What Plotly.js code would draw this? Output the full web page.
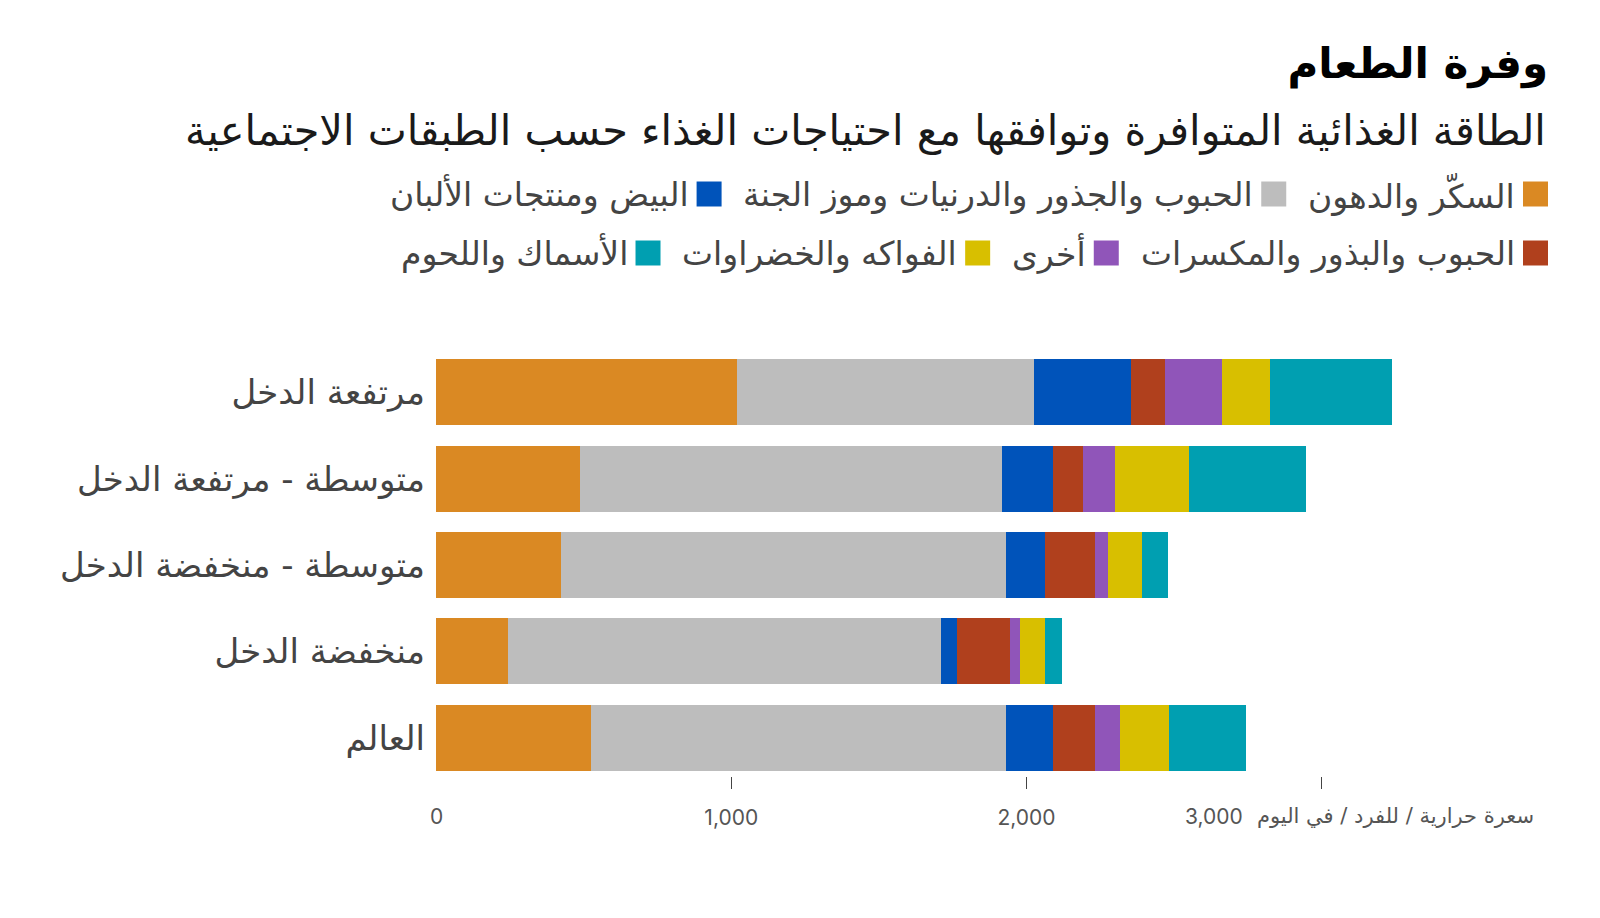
<!DOCTYPE html>
<html>
<head>
<meta charset="utf-8">
<script src="https://cdn.plot.ly/plotly-3.0.1.min.js"></script>
<style>
  html, body { margin: 0; padding: 0; background: #fff; }
  #chart { width: 1600px; height: 918px; }
</style>
</head>
<body>
<div id="chart"></div>
<script>
// ---------- DATA ----------
const categories = ['مرتفعة الدخل', 'متوسطة - مرتفعة الدخل', 'متوسطة - منخفضة الدخل', 'منخفضة الدخل', 'العالم'];
const sugarFats    = [1019, 488, 423, 244, 525];
const cerealsRoots = [1005, 1428, 1509, 1465, 1406];
const eggsDairy    = [331, 173, 131, 54, 158];
const pulsesNuts   = [114, 102, 169, 181, 143];
const otherFoods   = [192, 108, 45, 35, 84];
const fruitsVeg    = [162, 250, 114, 84, 166];
const meatFish     = [415, 398, 89, 57, 262];

const seriesNames = [
  'السكّر والدهون',
  'الحبوب والجذور والدرنيات وموز الجنة',
  'البيض ومنتجات الألبان',
  'الحبوب والبذور والمكسرات',
  'أخرى',
  'الفواكه والخضراوات',
  'الأسماك واللحوم'
];
const seriesValues = [sugarFats, cerealsRoots, eggsDairy, pulsesNuts, otherFoods, fruitsVeg, meatFish];
const seriesColors = ['#DA8923', '#BDBDBD', '#0053BA', '#B0401D', '#9055B9', '#D8BF00', '#009FB1'];

const tickVals = [1000, 2000, 3000];
const tickText = ['1,000', '2,000', ''];
const zeroLabel = '0';
const lastTickLabel = '3,000';

const titleText = 'وفرة الطعام';
const subtitleText = 'الطاقة الغذائية المتوافرة وتوافقها مع احتياجات الغذاء حسب الطبقات الاجتماعية';
const unitText = 'سعرة حرارية / للفرد / في اليوم';

// ---------- LAYOUT GEOMETRY ----------
const W = 1600, H = 918;
const ML = 436, MR = 52, MT = 349, MB = 142;
const PW = W - ML - MR, PH = H - MT - MB;
const XMAX = 3766;
const px2x = px => (px - ML) / PW;
const px2y = py => (H - MB - py) / PH;

const arabicFont = "'DejaVu Sans', sans-serif";
const numFont = "Inter, 'DejaVu Sans', sans-serif";
const tickFontSize = 21;
const tickLabelY = 816;

// ---------- TRACES ----------
const traces = seriesValues.map((vals, i) => ({
  type: 'bar',
  orientation: 'h',
  y: categories,
  x: vals,
  name: seriesNames[i],
  marker: { color: seriesColors[i], line: { width: 0 } },
  hoverinfo: 'x+name',
  showlegend: false
}));

// ---------- CUSTOM RTL LEGEND ----------
function measure(text, size) {
  const c = document.createElement('canvas').getContext('2d');
  c.font = size + "px 'DejaVu Sans'";
  return c.measureText(text).width;
}
const legendRows = [[0, 1, 2], [3, 4, 5, 6]];
const legendRowY = [194, 253];
const legendSize = 33;
const sw = 25;
const shapes = [];
const annotations = [];
legendRows.forEach((row, r) => {
  let cursor = 1548;
  const cy = legendRowY[r];
  row.forEach(idx => {
    shapes.push({
      type: 'rect', xref: 'paper', yref: 'paper',
      x0: px2x(cursor - sw), x1: px2x(cursor),
      y0: px2y(cy + sw / 2), y1: px2y(cy - sw / 2),
      fillcolor: seriesColors[idx], line: { width: 0 }
    });
    const tx = cursor - sw - 6;
    annotations.push({
      xref: 'paper', yref: 'paper', x: px2x(tx), y: px2y(cy),
      xanchor: 'right', yanchor: 'middle', showarrow: false,
      text: seriesNames[idx],
      font: { family: arabicFont, size: legendSize, color: '#444' }
    });
    const w = measure(seriesNames[idx], legendSize);
    cursor = tx - w - 24;
  });
});

annotations.push({
  xref: 'paper', yref: 'paper', x: px2x(1548), y: px2y(130),
  xanchor: 'right', yanchor: 'middle', showarrow: false,
  text: subtitleText,
  font: { family: arabicFont, size: 41.5, color: '#1a1a1a' }
});
// x-axis end labels
annotations.push({
  xref: 'x', yref: 'paper', x: 0, y: px2y(tickLabelY),
  xanchor: 'center', yanchor: 'middle', showarrow: false,
  text: zeroLabel,
  font: { family: numFont, size: tickFontSize, color: '#555' }
});
annotations.push({
  xref: 'paper', yref: 'paper', x: px2x(1214), y: px2y(tickLabelY),
  xanchor: 'center', yanchor: 'middle', showarrow: false,
  text: lastTickLabel,
  font: { family: numFont, size: tickFontSize, color: '#555' }
});
annotations.push({
  xref: 'paper', yref: 'paper', x: px2x(1536), y: px2y(tickLabelY),
  xanchor: 'right', yanchor: 'middle', showarrow: false,
  text: unitText,
  font: { family: arabicFont, size: 21, color: '#555' }
});

const layout = {
  width: W, height: H,
  margin: { l: ML, r: MR, t: MT, b: MB, pad: 0 },
  paper_bgcolor: '#fff', plot_bgcolor: '#fff',
  barmode: 'stack',
  bargap: 0.236,
  showlegend: false,
  title: {
    text: '<b>' + titleText + '</b>',
    xref: 'paper', x: px2x(1548), xanchor: 'right',
    yref: 'container', y: 1 - 63 / H, yanchor: 'middle',
    font: { family: arabicFont, size: 42, color: '#000' }
  },
  xaxis: {
    range: [0, XMAX], fixedrange: true,
    tickvals: tickVals, ticktext: tickText,
    ticks: 'outside', ticklen: 12, tickwidth: 1.2, tickcolor: '#444',
    showgrid: false, zeroline: false, showline: false,
    ticklabelstandoff: 11,
    tickfont: { family: numFont, size: tickFontSize, color: '#555' }
  },
  yaxis: {
    type: 'category', range: [4.442, -0.5], fixedrange: true,
    ticks: '', showgrid: false, zeroline: false, showline: false,
    ticklabelstandoff: 10,
    tickfont: { family: arabicFont, size: 34, color: '#444' }
  },
  shapes: shapes,
  annotations: annotations
};

Plotly.newPlot('chart', traces, layout, { displayModeBar: false, staticPlot: true });
</script>
</body>
</html>
